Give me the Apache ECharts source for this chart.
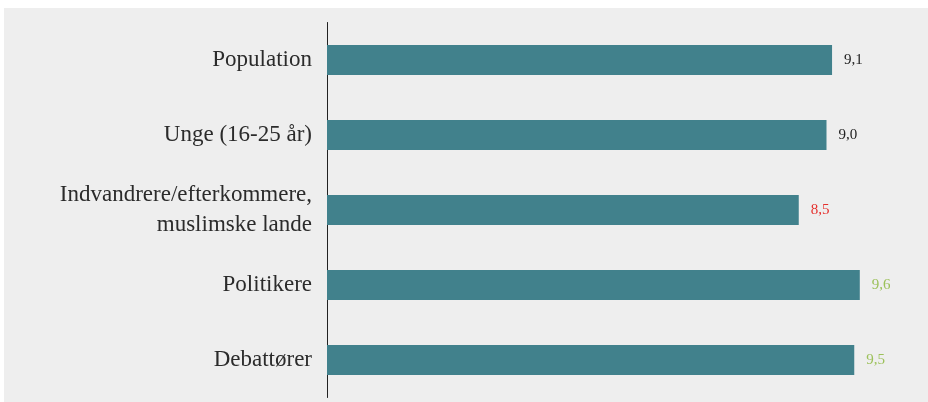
<!DOCTYPE html>
<html>
<head>
<meta charset="utf-8">
<script src="https://cdn.jsdelivr.net/npm/echarts@6/dist/echarts.min.js"></script>
<style>
  html, body { margin: 0; padding: 0; background: #fff; }
  #chart { width: 928px; height: 402px; }
</style>
</head>
<body>
<div id="chart"></div>
<script>
// data
const categories = ['Population', 'Unge (16-25 år)', 'Indvandrere/efterkommere,\nmuslimske lande', 'Politikere', 'Debattører']
const values = [9.1, 9.0, 8.5, 9.6, 9.5]

// farve på værdilabels
const labelColors = ['#222222', '#222222', '#e5302d', '#9cc15a', '#9cc15a']

const chart = echarts.init(document.getElementById('chart'))

const option = {
  backgroundColor: '#ffffff',
  animation: false,
  graphic: [{
    type: 'rect',
    z: -10,
    shape: { x: 4, y: 8, width: 924, height: 394 },
    style: { fill: '#eeeeee' }
  }],
  grid: {
    left: 327,
    right: 46,
    top: 22.5,
    bottom: 4.5
  },
  xAxis: {
    type: 'value',
    min: 0,
    max: 10,
    show: false,
    splitLine: { show: false }
  },
  yAxis: {
    type: 'category',
    inverse: true,
    data: categories,
    axisLine: { lineStyle: { color: '#222', width: 1 } },
    axisTick: { show: false },
    axisLabel: {
      margin: 15,
      fontFamily: 'Liberation Serif',
      fontSize: 23,
      lineHeight: 30,
      color: '#2b2b2b',
      align: 'right'
    }
  },
  series: [{
    type: 'bar',
    barWidth: 30,
    itemStyle: { color: '#41818c' },
    label: {
      show: true,
      position: 'right',
      distance: 12,
      fontFamily: 'Liberation Serif',
      fontSize: 15,
      formatter: p => p.value.toFixed(1).replace('.', ',')
    },
    data: values.map((v, i) => ({
      value: v,
      label: { color: labelColors[i] }
    }))
  }]
}

chart.setOption(option)
</script>
</body>
</html>
